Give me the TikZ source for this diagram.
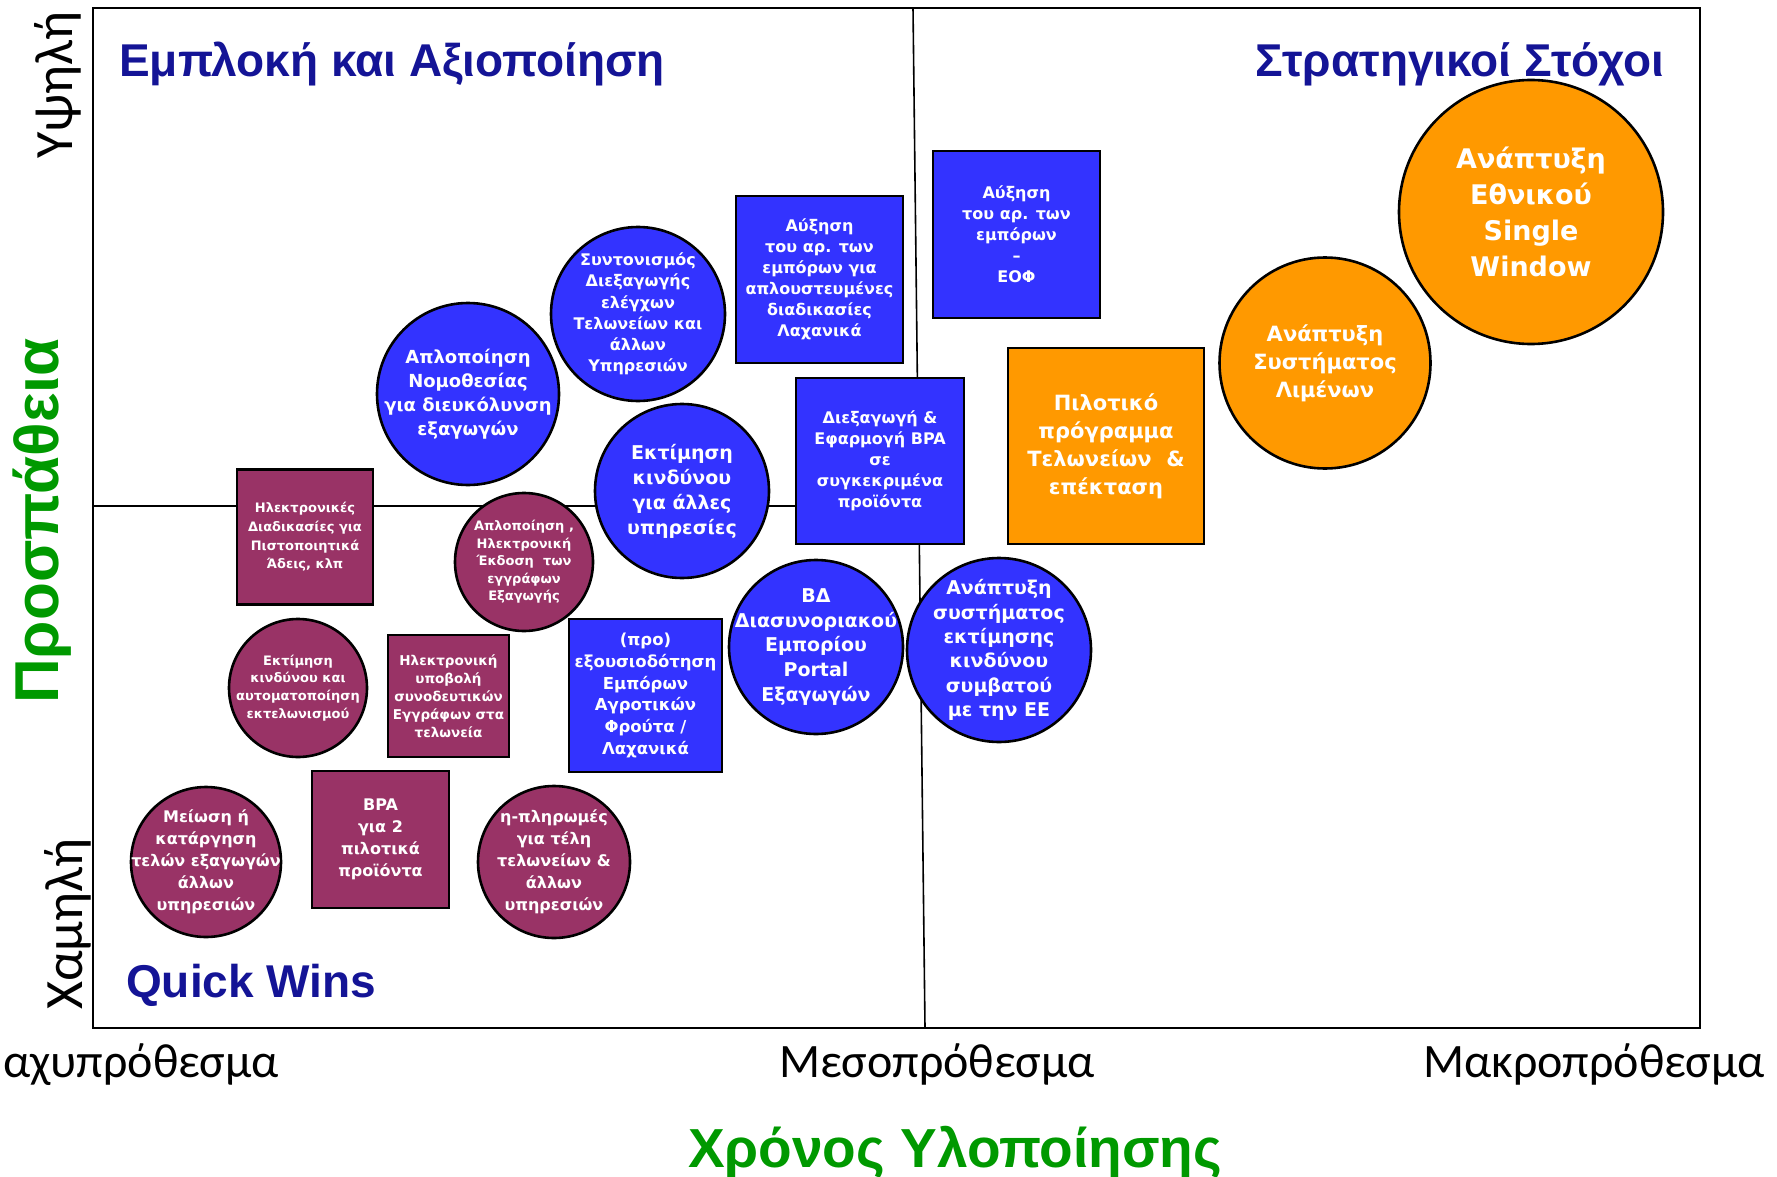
\documentclass[tikz,border=0pt]{standalone}
\usepackage{fontspec}
\setmainfont{DejaVu Sans}
\newfontfamily\titlefont{Liberation Sans}
\newfontfamily\axisfont{Carlito}
\newfontfamily\boxfont{DejaVu Sans}
\definecolor{qmag}{RGB}{153,51,102}
\definecolor{qblue}{RGB}{51,51,255}
\definecolor{qorange}{RGB}{255,153,0}
\definecolor{qnavy}{RGB}{20,20,150}
\definecolor{qgreen}{RGB}{0,153,0}
\tikzset{
  item/.style={draw=black, line width=2.6pt, inner sep=0pt},
  box/.style 2 args={item, rectangle, minimum width=#1, minimum height=#2},
  disc/.style={item, circle, minimum size=#1},
  txt/.style 2 args={text=white, align=center, font=\boxfont\bfseries\fontsize{#1}{#2}\selectfont},
  mag/.style={fill=qmag},
  blu/.style={fill=qblue},
  org/.style={fill=qorange},
  heading/.style={text=qnavy, inner sep=0pt, font=\titlefont\bfseries\fontsize{46}{50}\selectfont},
  ticklbl/.style={inner sep=0pt, font=\axisfont\fontsize{#1}{#1}\selectfont},
  ticklbl/.default=48,
  axislbl/.style={text=qgreen, inner sep=0pt, font=\titlefont\bfseries\fontsize{#1}{#1}\selectfont},
}

\begin{document}
\begin{tikzpicture}[x=1pt,y=-1pt]
  \useasboundingbox (0,0) rectangle (1777,1177);

  % Frame and quadrant dividers
  \coordinate (nw) at (93,8);
  \coordinate (se) at (1700,1028);
  \coordinate (vtop) at (913,8);
  \coordinate (vbot) at (925,1028);
  \coordinate (hleft) at (93,506);
  \coordinate (hright) at (919,506);
  \draw[line width=1.6pt] (hleft) -- (hright);
  \draw[line width=1.6pt] (vtop) -- (vbot);
  \draw[line width=2pt] (nw) rectangle (se);

  % Quadrant headings
  \node[heading, anchor=base west] (engage) at (119,77) {Εμπλοκή και Αξιοποίηση};
  \node[heading, anchor=base east] (strategic) at (1664,77) {Στρατηγικοί Στόχοι};
  \node[heading, anchor=base west] (quick) at (126,997) {Quick Wins};

  % Axes
  \node[ticklbl, anchor=base west] (short) at (3,1077) {αχυπρόθεσμα};
  \node[ticklbl, anchor=base] (medium) at (937,1077) {Μεσοπρόθεσμα};
  \node[ticklbl, anchor=base east] (long) at (1765,1077) {Μακροπρόθεσμα};
  \node[axislbl=55, anchor=base] (time) at (955,1167) {Χρόνος Υλοποίησης};
  \node[ticklbl=54, rotate=90, anchor=base] (high) at (72,85) {Υψηλή};
  \node[ticklbl=54, rotate=90, anchor=base] (low) at (82,924) {Χαμηλή};
  \node[axislbl=62, rotate=90, anchor=base] (effort) at (58,521) {Προσπάθεια};

  % Quick wins
  \node[box={136}{135}, mag, txt={13}{18.7}] (certs) at (305,537) {Ηλεκτρονικές\\Διαδικασίες για\\Πιστοποιητικά\\Άδεις, κλπ};
  \node[disc=138, mag, label={[txt={13}{17.5}]center:{Απλοποίηση ,\\Ηλεκτρονική\\Έκδοση \ των\\εγγράφων\\Εξαγωγής}}] (exportdocs) at (524,562) {};
  \node[disc=138, mag, label={[txt={13}{17.8}]center:{Εκτίμηση\\κινδύνου και\\αυτοματοποίηση\\εκτελωνισμού}}] (clearance) at (298,688) {};
  \node[box={121}{122}, mag, txt={13.5}{18}] (esubmit) at (448.5,696) {Ηλεκτρονική\\υποβολή\\συνοδευτικών\\Εγγράφων στα\\τελωνεία};
  \node[disc=150, mag, label={[txt={16}{22}]center:{Μείωση ή\\κατάργηση\\τελών εξαγωγών\\άλλων\\υπηρεσιών}}] (fees) at (206,862) {};
  \node[box={137}{137}, mag, txt={16}{22}] (bpapilot) at (380.5,839.5) {BPA\\για 2\\πιλοτικά\\προϊόντα};
  \node[disc=152, mag, label={[txt={16}{22}]center:{η-πληρωμές\\για τέλη\\τελωνείων \&\\άλλων\\υπηρεσιών}}] (epay) at (554,862) {};

  % Engagement
  \node[disc=182, blu, label={[txt={18}{24}]center:{Απλοποίηση\\Νομοθεσίας\\για διευκόλυνση\\εξαγωγών}}] (law) at (468,394) {};
  \node[disc=174, blu, label={[txt={16}{21.3}]center:{Συντονισμός\\Διεξαγωγής\\ελέγχων\\Τελωνείων και\\άλλων\\Υπηρεσιών}}] (coord) at (638,314) {};
  \node[box={167}{167}, blu, txt={16}{21}] (simplified) at (819.5,279.5) {Αύξηση\\του αρ. των\\εμπόρων για\\απλουστευμένες\\διαδικασίες\\Λαχανικά};
  \node[disc=174, blu, label={[txt={19}{25}]center:{Εκτίμηση\\κινδύνου\\για άλλες\\υπηρεσίες}}] (risk) at (682,491) {};
  \node[box={168}{166}, blu, txt={16}{21}] (bpaapply) at (880,461) {Διεξαγωγή \&\\Εφαρμογή BPA\\σε\\συγκεκριμένα\\προϊόντα};
  \node[box={153}{153}, blu, txt={16.5}{21.7}] (preauth) at (645.5,695.5) {(προ)\\εξουσιοδότηση\\Εμπόρων\\Αγροτικών\\Φρούτα /\\Λαχανικά};
  \node[disc=174, blu, label={[txt={19}{24.7}]center:{ΒΔ\\Διασυνοριακού\\Εμπορίου\\Portal\\Εξαγωγών}}] (portal) at (816,647) {};
  \node[disc=184, blu, label={[txt={19}{24.3}]center:{Ανάπτυξη\\συστήματος\\εκτίμησης\\κινδύνου\\συμβατού\\με την ΕΕ}}] (eurisk) at (999,650) {};
  \node[box={167}{167}, blu, txt={16}{21}] (eof) at (1016.5,234.5) {Αύξηση\\του αρ. των\\εμπόρων\\–\\ΕΟΦ};

  % Strategic goals
  \node[box={196}{196}, org, txt={21}{28}] (pilot) at (1106,446) {Πιλοτικό\\πρόγραμμα\\Τελωνείων \ \&\\επέκταση};
  \node[disc=211, org, label={[txt={21}{28}]center:{Ανάπτυξη\\Συστήματος\\Λιμένων}}] (ports) at (1325,363) {};
  \node[disc=264, org, label={[txt={27}{36}]center:{Ανάπτυξη\\Εθνικού\\Single\\Window}}] (window) at (1531,212) {};

\end{tikzpicture}
\end{document}
